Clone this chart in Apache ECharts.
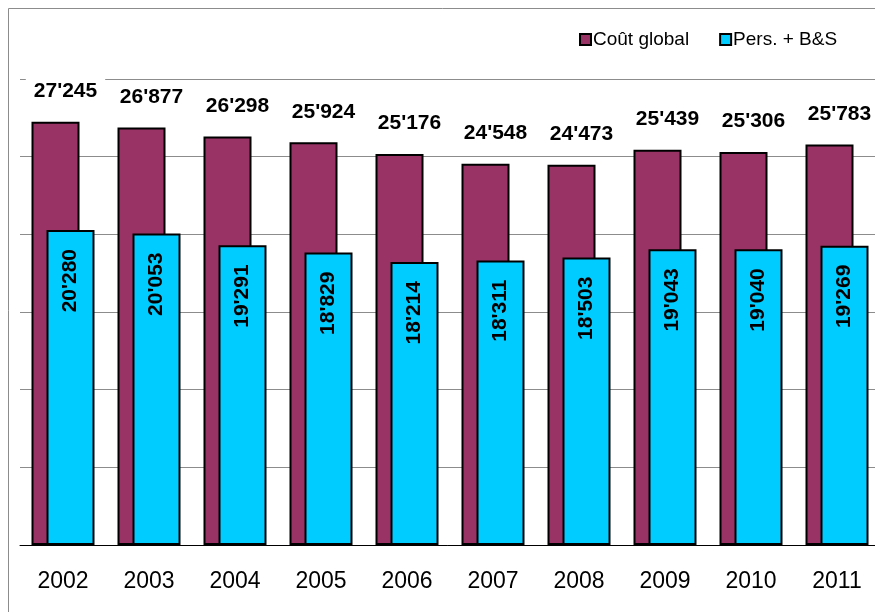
<!DOCTYPE html>
<html>
<head>
<meta charset="utf-8">
<script src="https://cdn.jsdelivr.net/npm/echarts@6/dist/echarts.min.js"></script>
<style>
  html, body { margin: 0; padding: 0; background: #fff; }
  #chart { width: 875px; height: 612px; }
</style>
</head>
<body>
<div id="chart"></div>
<script>
// Annual costs: total cost vs. personnel + goods & services
const years = ['2002', '2003', '2004', '2005', '2006', '2007', '2008', '2009', '2010', '2011'];
const coutGlobal = [27245, 26877, 26298, 25924, 25176, 24548, 24473, 25439, 25306, 25783];
const persBS = [20280, 20053, 19291, 18829, 18214, 18311, 18503, 19043, 19040, 19269];
const seriesNames = ['Coût global', 'Pers. + B&S'];

const FONT = 'Arial, "Liberation Sans", sans-serif';

// 27245 -> 27'245
function fmt(v) {
  return String(Math.round(v)).replace(/\B(?=(\d{3})+(?!\d))/g, "'");
}

const chart = echarts.init(document.getElementById('chart'), null, { renderer: 'canvas' });

chart.setOption({
  backgroundColor: '#fff',
  animation: false,
  graphic: [{
    type: 'rect',
    shape: { x: 8.5, y: 8.5, width: 1000, height: 800 },
    style: { fill: 'none', stroke: '#8c8c8c', lineWidth: 1 },
    z: -10
  }],
  legend: {
    left: 574,
    top: 25,
    itemWidth: 11,
    itemHeight: 11,
    itemGap: 30,
    icon: 'rect',
    textStyle: { fontFamily: FONT, fontSize: 19, color: '#000', padding: [0, 0, 0, -3] },
    data: seriesNames
  },
  grid: { left: 20, top: 79, width: 860, height: 466, containLabel: false, outerBoundsMode: 'none' },
  xAxis: {
    type: 'category',
    data: years,
    axisLine: { lineStyle: { color: '#000', width: 1 } },
    axisTick: { show: false },
    axisLabel: { fontFamily: FONT, fontSize: 23, color: '#000', margin: 25 }
  },
  yAxis: {
    type: 'value',
    min: 0,
    max: 30000,
    interval: 5000,
    axisLine: { show: false },
    axisTick: { show: false },
    axisLabel: { show: false },
    splitLine: { lineStyle: { color: '#8c8c8c', width: 1 } }
  },
  series: [
    {
      name: seriesNames[0],
      type: 'bar',
      data: coutGlobal,
      barWidth: 48,
      barGap: '-68.75%',
      itemStyle: { color: '#993366', borderColor: '#000', borderWidth: 2 },
      label: {
        show: true,
        position: 'top',
        distance: 18,
        offset: [10, 0],
        formatter: p => fmt(p.value),
        fontFamily: FONT,
        fontSize: 21,
        fontWeight: 'bold',
        color: '#000',
        backgroundColor: '#fff',
        padding: [3, 8, 2, 8]
      }
    },
    {
      name: seriesNames[1],
      type: 'bar',
      data: persBS,
      barWidth: 48,
      itemStyle: { color: '#00CCFF', borderColor: '#000', borderWidth: 2 },
      label: {
        show: true,
        position: ['50%', 19],
        rotate: 90,
        align: 'right',
        verticalAlign: 'middle',
        formatter: p => fmt(p.value),
        fontFamily: FONT,
        fontSize: 21,
        fontWeight: 'bold',
        color: '#000'
      }
    }
  ]
});
</script>
</body>
</html>
